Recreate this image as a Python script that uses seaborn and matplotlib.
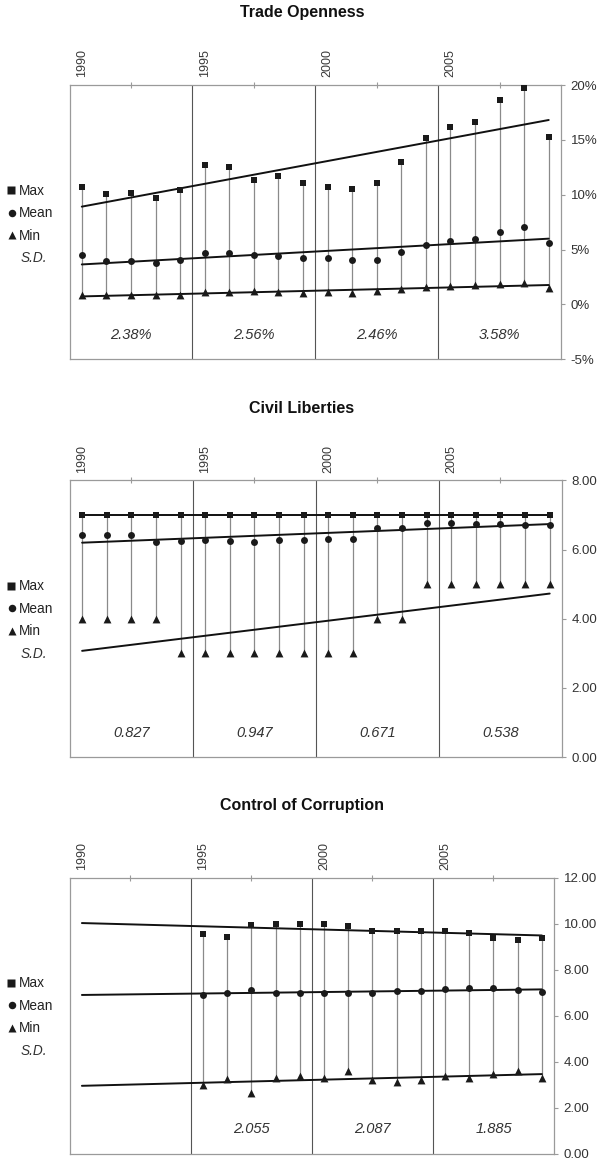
import numpy as np
import pandas as pd
import matplotlib
matplotlib.use("Agg")
import matplotlib.pyplot as plt
from matplotlib.lines import Line2D
import matplotlib.transforms as mtransforms
import seaborn as sns

# ---------------------------------------------------------------- data
years = list(range(1990, 2010))
years_cc = list(range(1995, 2010))

trade_max = [10.7, 10.1, 10.15, 9.7, 10.4, 12.7, 12.5, 11.3, 11.7, 11.05,
             10.7, 10.5, 11.1, 13.0, 15.2, 16.2, 16.6, 18.6, 19.75, 15.3]
trade_mean = [4.47, 3.98, 4.0, 3.77, 4.04, 4.7, 4.7, 4.5, 4.44, 4.26,
              4.26, 4.04, 4.07, 4.74, 5.4, 5.74, 6.0, 6.6, 7.1, 5.6]
trade_min = [0.86, 0.85, 0.85, 0.9, 0.85, 1.09, 1.16, 1.19, 1.09, 1.07,
             1.09, 1.04, 1.22, 1.43, 1.58, 1.67, 1.79, 1.82, 1.95, 1.52]
trade_sd = ["2.38%", "2.56%", "2.46%", "3.58%"]

cl_max = [7.0] * 20
cl_mean = [6.42, 6.42, 6.42, 6.22, 6.25, 6.28, 6.25, 6.22, 6.28, 6.28,
           6.31, 6.31, 6.62, 6.62, 6.78, 6.78, 6.75, 6.75, 6.72, 6.72]
cl_min = [4, 4, 4, 4, 3, 3, 3, 3, 3, 3, 3, 3, 4, 4, 5, 5, 5, 5, 5, 5]
cl_sd = ["0.827", "0.947", "0.671", "0.538"]

cc_max = [9.55, 9.43, 9.93, 9.99, 9.99, 9.99, 9.88, 9.69, 9.69, 9.69,
          9.69, 9.59, 9.39, 9.29, 9.39]
cc_mean = [6.89, 6.99, 7.09, 6.99, 6.99, 6.99, 6.99, 6.99, 7.05, 7.08,
           7.15, 7.18, 7.18, 7.1, 7.03]
cc_min = [2.99, 3.26, 2.65, 3.28, 3.39, 3.27, 3.6, 3.2, 3.11, 3.21,
          3.39, 3.28, 3.46, 3.6, 3.28]
cc_sd = ["2.055", "2.087", "1.885"]

period_centers = [1992, 1997, 2002, 2007]
period_breaks = [1994.5, 1999.5, 2004.5]
year_labels = [1990, 1995, 2000, 2005]

trade_ticks = [-5, 0, 5, 10, 15, 20]
trade_ticklabels = ["-5%", "0%", "5%", "10%", "15%", "20%"]
cl_ticks = [0, 2, 4, 6, 8]
cl_ticklabels = ["0.00", "2.00", "4.00", "6.00", "8.00"]
cc_ticks = [0, 2, 4, 6, 8, 10, 12]
cc_ticklabels = ["0.00", "2.00", "4.00", "6.00", "8.00", "10.00", "12.00"]

# ---------------------------------------------------------------- style
sns.set_theme(style="white")
plt.rcParams["font.family"] = ["Liberation Sans", "DejaVu Sans"]

W, H = 597, 1160
fig = plt.figure(figsize=(W / 100, H / 100), dpi=100)
fig.patch.set_facecolor("white")

INK = "#1a1a1a"
FRAME = "#9a9a9a"


def axes_px(left, top, right, bottom):
    return fig.add_axes([left / W, 1 - bottom / H, (right - left) / W, (bottom - top) / H])


def legend_block(top):
    rows = [("s", "Max", 105.0, 10.8, 5.2), ("o", "Mean", 127.5, 12.3, 5.4),
            ("^", "Min", 150.0, 12.0, 6.0)]
    for mk, label, off, mx, ms in rows:
        y = top + off
        fig.add_artist(Line2D([mx / W], [1 - y / H], marker=mk, ms=ms, color=INK,
                              mec="none", ls="none", transform=fig.transFigure))
        fig.text(19 / W, 1 - (y + 4.7) / H, label, fontsize=9.8, ha="left",
                 va="baseline", color="#222222")
    fig.text(21 / W, 1 - (top + 172.5 + 4.7) / H, "S.D.", fontsize=9.8,
             style="italic", ha="left", va="baseline", color="#333333")


def draw_panel(ax, title, top, yrs, vmax, vmean, vmin, sd_labels, sd_centers,
               ylim, yticks, yticklabels):
    df = pd.DataFrame({"year": yrs, "max": vmax, "mean": vmean, "min": vmin})

    # stems from min to max
    ax.vlines(df["year"], df["min"], df["max"], color="#8a8a8a", lw=0.9, zorder=1)

    # period separators
    for b in period_breaks:
        ax.axvline(b, color="#555555", lw=0.8, zorder=0.5)

    # markers and linear trends over the full 1990-2009 span
    fit_x = np.array([years[0], years[-1]], dtype=float)
    for col, mk, s in [("max", "s", 24), ("mean", "o", 25), ("min", "^", 32)]:
        sns.scatterplot(data=df, x="year", y=col, marker=mk, s=s, color=INK,
                        linewidth=0, ax=ax, zorder=3, legend=False)
        coef = np.polyfit(df["year"].astype(float), df[col], 1)
        ax.plot(fit_x, np.polyval(coef, fit_x), color="#111111", lw=1.4, zorder=2)

    # standard deviation per period
    trans = mtransforms.blended_transform_factory(ax.transData, ax.transAxes)
    for c, lab in zip(sd_centers, sd_labels):
        ax.text(c, 0.087, lab, transform=trans, ha="center", va="center",
                fontsize=10.5, style="italic", color="#333333")

    ax.set_xlim(1989.5, 2009.5)
    ax.set_ylim(*ylim)
    ax.set_xlabel("")
    ax.set_ylabel("")

    # x axis on top: short ticks mid-period, year labels every five years
    ax.xaxis.tick_top()
    ax.set_xticks(period_centers)
    ax.set_xticklabels([])
    ax.set_xticks(year_labels, minor=True)
    ax.set_xticklabels([str(y) for y in year_labels], minor=True, rotation=90,
                       fontsize=9, color="#3a3a3a")
    ax.tick_params(axis="x", which="major", direction="inout", length=5,
                   width=0.8, color=FRAME, top=True, bottom=False)
    ax.tick_params(axis="x", which="minor", length=0, pad=5.5, top=True,
                   bottom=False)

    # y axis on the right
    ax.yaxis.tick_right()
    ax.set_yticks(yticks)
    ax.set_yticklabels(yticklabels, fontsize=9.5, color="#333333")
    ax.tick_params(axis="y", direction="out", length=3, width=0.8, color=FRAME,
                   pad=4, right=True, left=False)

    for sp in ax.spines.values():
        sp.set_visible(True)
        sp.set_color(FRAME)
        sp.set_linewidth(0.9)
    ax.grid(False)

    fig.text(302 / W, 1 - (top - 72) / H, title, fontsize=11.5, fontweight="bold",
             ha="center", va="center", color="#111111")
    legend_block(top)


ax1 = axes_px(69.5, 85, 561, 359.3)
draw_panel(ax1, "Trade Openness", 85, years, trade_max, trade_mean, trade_min,
           trade_sd, period_centers, (-5, 20), trade_ticks, trade_ticklabels)

ax2 = axes_px(69.8, 480.5, 562, 757)
draw_panel(ax2, "Civil Liberties", 480.5, years, cl_max, cl_mean, cl_min,
           cl_sd, period_centers, (0, 8), cl_ticks, cl_ticklabels)

ax3 = axes_px(69.8, 877.5, 554, 1153.5)
draw_panel(ax3, "Control of Corruption", 877.5, years_cc, cc_max, cc_mean, cc_min,
           cc_sd, period_centers[1:], (0, 12), cc_ticks, cc_ticklabels)

fig.savefig("out.png", dpi=100, facecolor="white")
